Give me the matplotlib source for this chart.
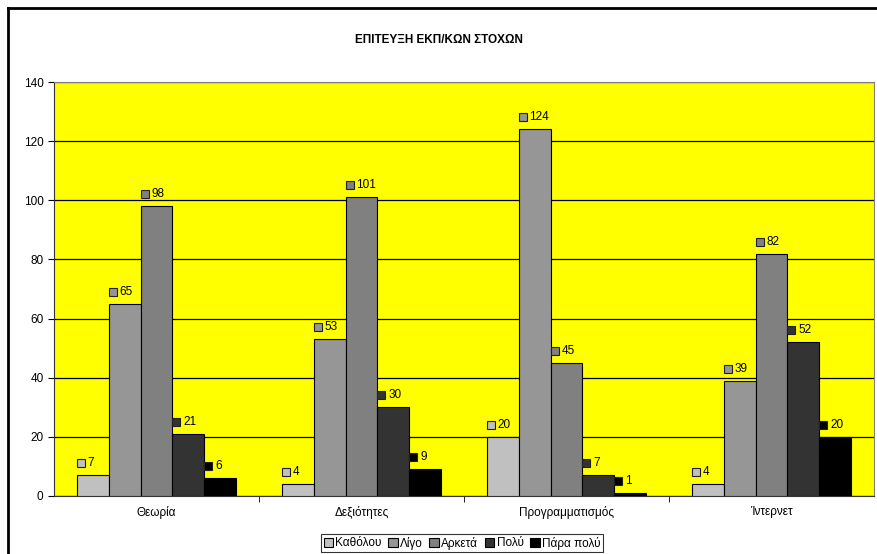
import numpy as np
import matplotlib
matplotlib.use("Agg")
import matplotlib.pyplot as plt
from matplotlib.transforms import offset_copy
from matplotlib.lines import Line2D

plt.rcParams['font.family'] = ['Liberation Sans', 'DejaVu Sans']

categories = ["Θεωρία", "Δεξιότητες", "Προγραμματισμός", "Ίντερνετ"]
series = ["Καθόλου", "Λίγο", "Αρκετά", "Πολύ", "Πάρα πολύ"]
kathol = [7, 4, 20, 4]
ligo = [65, 53, 124, 39]
arketa = [98, 101, 45, 82]
poly = [21, 30, 7, 52]
para_poly = [6, 9, 1, 20]
values = [kathol, ligo, arketa, poly, para_poly]
colors = ["#c0c0c0", "#969696", "#808080", "#333333", "#000000"]

fig = plt.figure(figsize=(8.77, 5.54), dpi=100)
ax = fig.add_axes([54 / 877, 1 - 496 / 554, 820 / 877, 414 / 554])
ax.set_facecolor("#ffff00")

x = np.arange(len(categories))
w = 0.156
for i, (name, vals, col) in enumerate(zip(series, values, colors)):
    pos = x + (i - 2) * w
    ax.bar(pos, vals, w, color=col, edgecolor="black", linewidth=0.8,
           label=name, zorder=3)
    # data labels: small colored square + number
    mk_tr = offset_copy(ax.transData, fig=fig, x=-12, y=12, units="dots")
    ax.plot(pos, vals, linestyle="none", marker="s", markersize=6,
            markerfacecolor=col, markeredgecolor="#222222", markeredgewidth=0.8,
            transform=mk_tr, zorder=4, clip_on=False)
    for p, v in zip(pos, vals):
        ax.annotate(str(v), (p, v), xytext=(-5, 12), textcoords="offset pixels",
                    ha="left", va="center", fontsize=8.5, zorder=5)

ax.set_xlim(-0.5, 3.5)
ax.set_ylim(0, 140)
ax.set_yticks(range(0, 141, 20))
ax.yaxis.grid(True, color="black", linewidth=0.9, zorder=1)
ax.set_axisbelow(True)
ax.set_xticks(x)
ax.set_xticklabels(categories, fontsize=8.5)
ax.tick_params(axis="x", length=0, pad=7)
ax.set_xticks([0.5, 1.5, 2.5], minor=True)
ax.tick_params(axis="x", which="minor", length=4, direction="out")
ax.tick_params(axis="y", labelsize=8.5, length=4, direction="out")
for s in ["top", "right"]:
    ax.spines[s].set_color("#808080")
ax.spines["left"].set_color("#333333")
ax.spines["bottom"].set_color("#333333")

fig.text(0.5, 1 - 40 / 554, "ΕΠΙΤΕΥΞΗ ΕΚΠ/ΚΩΝ ΣΤΟΧΩΝ", ha="center", va="center",
         fontsize=8.5, fontweight="bold")

leg = fig.legend(loc="center", bbox_to_anchor=(462 / 877, 1 - 543 / 554), ncol=5,
                 fontsize=8.5, frameon=True, fancybox=False, handlelength=0.8,
                 handleheight=0.8, handletextpad=0.2, columnspacing=0.55,
                 borderpad=0.25, borderaxespad=0)
leg.get_frame().set_edgecolor("black")
leg.get_frame().set_linewidth(0.8)

# outer chart frame (only top and left visible)
fig.add_artist(Line2D([8 / 877, 8 / 877], [0, 1 - 8 / 554], color="black",
                      linewidth=2, transform=fig.transFigure))
fig.add_artist(Line2D([8 / 877, 1], [1 - 8 / 554, 1 - 8 / 554], color="black",
                      linewidth=2, transform=fig.transFigure))

fig.savefig("out.png", dpi=100)
